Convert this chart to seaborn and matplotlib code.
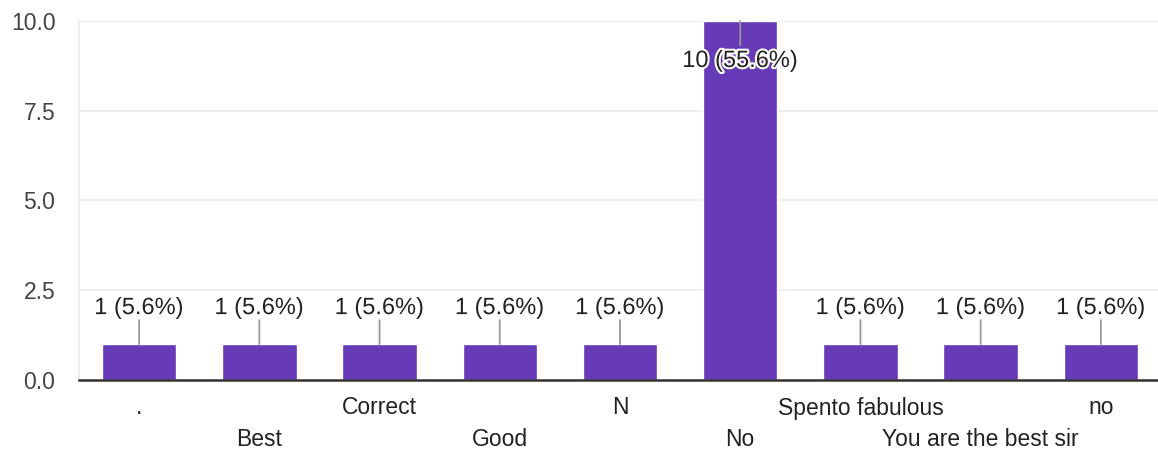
import matplotlib
matplotlib.use("Agg")
import matplotlib.pyplot as plt
import matplotlib.patheffects as pe
import seaborn as sns
import pandas as pd

# answers and counts
answers = [".", "Best", "Correct", "Good", "N", "No", "Spento fabulous", "You are the best sir", "no"]
counts = [1, 1, 1, 1, 1, 10, 1, 1, 1]
total = sum(counts)
y_ticks = [0.0, 2.5, 5.0, 7.5, 10.0]

df = pd.DataFrame({"answer": answers, "count": counts})

sns.set_theme(style="white")
plt.rcParams["font.family"] = ["Liberation Sans", "DejaVu Sans"]

fig = plt.figure(figsize=(11.58, 4.53), dpi=100)
ax = fig.add_axes([79 / 1158, 1 - 380 / 453, 1082 / 1158, 359 / 453])

sns.barplot(data=df, x="answer", y="count", color="#673ab7", saturation=1,
            width=0.62, ax=ax, zorder=3)

ax.set_ylim(0, 10)
ax.set_yticks(y_ticks)
ax.set_yticklabels([f"{t:.1f}" for t in y_ticks], fontsize=16.5, color="#444444")
ax.yaxis.grid(True, color="#ebebeb", linewidth=1.2, zorder=0)
ax.tick_params(axis="y", length=0, pad=17)
ax.tick_params(axis="x", length=0)
ax.set_xlabel("")
ax.set_ylabel("")

for s in ["top", "right"]:
    ax.spines[s].set_visible(False)
ax.spines["left"].set_color("#ebebeb")
ax.spines["left"].set_linewidth(1.2)
ax.spines["bottom"].set_color("#333333")
ax.spines["bottom"].set_linewidth(1.8)
ax.spines["bottom"].set_zorder(4)

# staggered category labels
ax.set_xticks(range(len(answers)))
ax.set_xticklabels([])
for i, a in enumerate(answers):
    ax.annotate(a, xy=(i, 0), xycoords=("data", "axes fraction"),
                xytext=(0, -28 if i % 2 == 0 else -60), textcoords="offset pixels",
                ha="center", va="center", fontsize=16.5, color="#222222")

# value labels with leader lines
for i, c in enumerate(counts):
    lbl = f"{c} ({c / total * 100:.1f}%)"
    inside = c > 0.8 * ax.get_ylim()[1]
    sign = -1 if inside else 1
    ax.annotate("", xy=(i, c), xytext=(0, sign * 24), textcoords="offset pixels",
                arrowprops=dict(arrowstyle="-", color="#999999", lw=1.3,
                                shrinkA=0, shrinkB=0), zorder=5)
    ax.annotate(lbl, xy=(i, c), xytext=(0, sign * (40 if inside else 36)),
                textcoords="offset pixels", ha="center", va="center",
                fontsize=17, color="#222222", zorder=6,
                path_effects=[pe.withStroke(linewidth=3, foreground="white")])

ax.set_xlim(-0.5, len(answers) - 0.5)
fig.savefig("out.png", dpi=100)
